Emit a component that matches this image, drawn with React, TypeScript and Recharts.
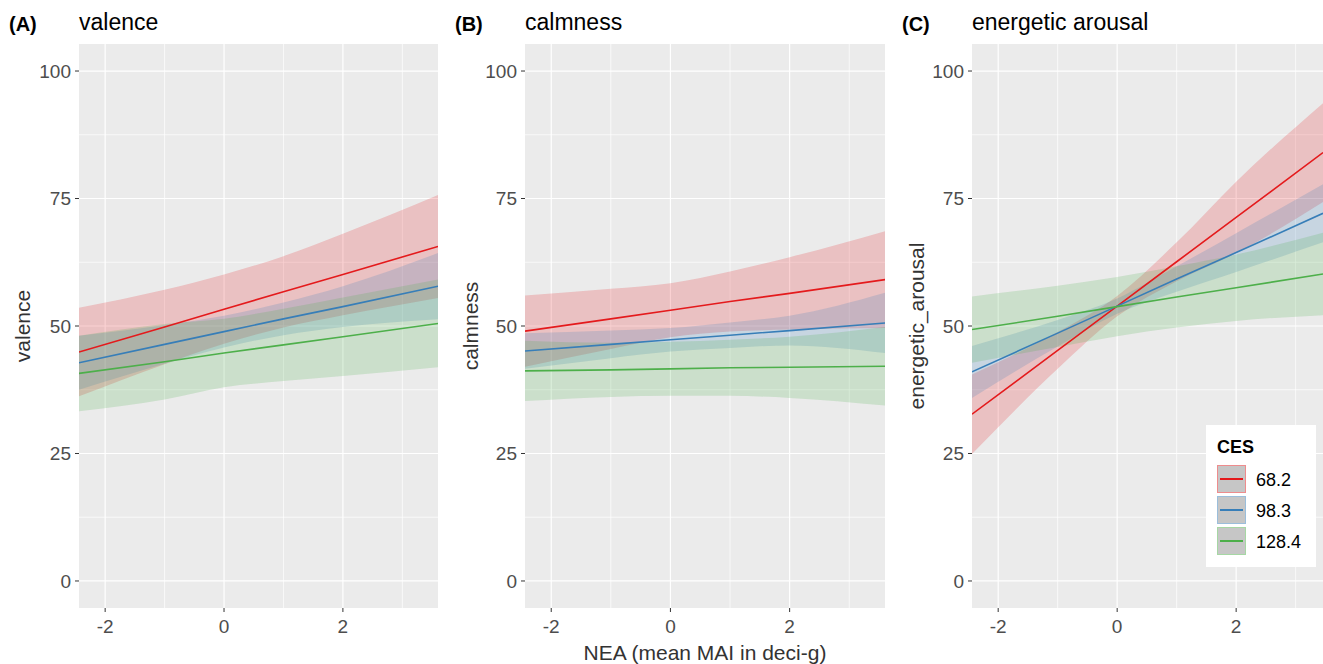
import React from "react"
import { ComposedChart, Area, Line, XAxis, YAxis, CartesianGrid } from "recharts"

const groups = ["68.2", "98.3", "128.4"]
const groupColors = ["#E41A1C", "#377EB8", "#4DAF4A"]
const keyBorders = ["#EE8C8D", "#9BBEDB", "#A6D7A4"]

const neaAB = [-2.44, -1, 0, 1, 2, 3.6]
const neaC = [-2.44, -1, 0, 1, 2, 3.46]

// (A) valence
const valenceFit = [
  [44.9, 49.8, 53.3, 56.7, 60.1, 65.6],
  [42.8, 46.4, 48.9, 51.4, 53.8, 57.8],
  [40.7, 43.0, 44.7, 46.3, 47.9, 50.5],
]
const valenceLow = [
  [36.2, 42.5, 46.5, 49.7, 52.1, 55.5],
  [37.5, 42.6, 45.8, 48.2, 49.8, 51.3],
  [33.3, 35.6, 38.0, 39.2, 40.2, 41.9],
]
const valenceHigh = [
  [53.6, 57.1, 60.1, 63.7, 68.1, 75.7],
  [48.1, 50.2, 52.0, 54.6, 57.8, 64.3],
  [48.1, 50.4, 51.4, 53.4, 55.6, 59.1],
]

// (B) calmness
const calmFit = [
  [49.0, 51.4, 53.1, 54.8, 56.4, 59.1],
  [45.1, 46.4, 47.3, 48.2, 49.1, 50.6],
  [41.2, 41.4, 41.6, 41.8, 41.9, 42.1],
]
const calmLow = [
  [42.0, 45.5, 47.8, 48.9, 49.3, 49.6],
  [41.6, 43.7, 45.0, 45.7, 46.2, 44.7],
  [35.3, 36.1, 36.3, 36.3, 35.9, 34.4],
]
const calmHigh = [
  [56.0, 57.3, 58.4, 60.7, 63.5, 68.6],
  [48.6, 49.1, 49.6, 50.7, 52.0, 56.5],
  [47.1, 46.7, 46.9, 47.3, 47.9, 49.8],
]

// (C) energetic arousal
const arousalFit = [
  [32.7, 45.2, 53.9, 62.6, 71.3, 84.0],
  [41.0, 48.6, 53.9, 59.2, 64.4, 72.1],
  [49.3, 51.9, 53.8, 55.7, 57.5, 60.2],
]
const arousalLow = [
  [24.9, 41.6, 51.9, 58.8, 64.3, 74.3],
  [35.9, 46.0, 52.4, 56.7, 60.6, 66.4],
  [42.8, 45.9, 48.0, 49.7, 51.0, 52.1],
]
const arousalHigh = [
  [40.5, 48.8, 55.9, 66.4, 78.3, 93.7],
  [46.1, 51.2, 55.4, 61.7, 68.2, 77.8],
  [55.8, 57.9, 59.6, 61.7, 64.0, 68.3],
]

const yTicks = [0, 25, 50, 75, 100]
const yMinor = [12.5, 37.5, 62.5, 87.5]
const xTicks = [-2, 0, 2]
const xMinor = [-1, 1, 3]

const font = "'Liberation Sans', Arial, sans-serif"

function makeRows(x: number[], fit: number[][], low: number[][], high: number[][]) {
  return x.map((v, i) => {
    const row: any = { x: v }
    groups.forEach((_, g) => {
      row[`fit${g}`] = fit[g][i]
      row[`band${g}`] = [low[g][i], high[g][i]]
    })
    return row
  })
}

interface PanelProps {
  rows: any[]
  xMax: number
  left: number
  width: number
  marginLeft: number
  marginRight: number
}

function Panel({ rows, xMax, left, width, marginLeft, marginRight }: PanelProps) {
  return (
    <div style={{ position: "absolute", left, top: 0 }}>
      <ComposedChart
        width={width}
        height={664}
        data={rows}
        margin={{ top: 44, right: marginRight, bottom: 26, left: marginLeft }}
      >
        <CartesianGrid
          fill="#EBEBEB"
          stroke="#FFFFFF"
          strokeWidth={0.7}
          horizontalValues={yMinor}
          verticalValues={xMinor}
        />
        <CartesianGrid
          stroke="#FFFFFF"
          strokeWidth={1.2}
          horizontalValues={yTicks}
          verticalValues={xTicks}
        />
        <XAxis
          type="number"
          dataKey="x"
          domain={[-2.44, xMax]}
          ticks={xTicks}
          allowDataOverflow
          axisLine={false}
          tickSize={4}
          tickMargin={8}
          height={30}
          tickLine={{ stroke: "#333333" }}
          tick={{ fill: "#4D4D4D", fontSize: 19, fontFamily: font }}
        />
        <YAxis
          type="number"
          domain={[-5.3, 105.3]}
          ticks={yTicks}
          allowDataOverflow
          axisLine={false}
          tickSize={4}
          tickMargin={4}
          width={40}
          tickLine={{ stroke: "#333333" }}
          tick={{ fill: "#4D4D4D", fontSize: 19, fontFamily: font }}
        />
        {groups.map((g, i) => (
          <Area
            key={`band-${g}`}
            type="monotone"
            dataKey={`band${i}`}
            stroke="none"
            fill={groupColors[i]}
            fillOpacity={0.2}
            isAnimationActive={false}
          />
        ))}
        {groups.map((g, i) => (
          <Line
            key={`fit-${g}`}
            type="linear"
            dataKey={`fit${i}`}
            stroke={groupColors[i]}
            strokeWidth={1.6}
            dot={false}
            isAnimationActive={false}
          />
        ))}
      </ComposedChart>
    </div>
  )
}

function Txt({ x, y, size, bold, color, rotate, children }: any) {
  return (
    <div
      style={{
        position: "absolute",
        left: x,
        top: y,
        fontSize: size,
        fontWeight: bold ? "bold" : "normal",
        color: color || "#000",
        whiteSpace: "nowrap",
        lineHeight: 1,
        transform: rotate ? "translate(-50%, -50%) rotate(-90deg)" : "translate(0, -50%)",
      }}
    >
      {children}
    </div>
  )
}

export default function App() {
  const rowsA = makeRows(neaAB, valenceFit, valenceLow, valenceHigh)
  const rowsB = makeRows(neaAB, calmFit, calmLow, calmHigh)
  const rowsC = makeRows(neaC, arousalFit, arousalLow, arousalHigh)

  return (
    <div
      style={{
        position: "absolute",
        left: 0,
        top: 0,
        width: 1323,
        height: 664,
        overflow: "hidden",
        background: "#FFFFFF",
        fontFamily: font,
      }}
    >
      <Panel rows={rowsA} xMax={3.6} left={0} width={445} marginLeft={39} marginRight={7} />
      <Panel rows={rowsB} xMax={3.6} left={445} width={445} marginLeft={40} marginRight={5} />
      <Panel rows={rowsC} xMax={3.46} left={890} width={433} marginLeft={42} marginRight={0} />

      <Txt x={9} y={24} size={20} bold>(A)</Txt>
      <Txt x={79} y={22} size={23}>valence</Txt>
      <Txt x={455} y={24} size={20} bold>(B)</Txt>
      <Txt x={525} y={22} size={23}>calmness</Txt>
      <Txt x={902} y={24} size={20} bold>(C)</Txt>
      <Txt x={972} y={22} size={23}>energetic arousal</Txt>

      <Txt x={22} y={326} size={21} color="#333" rotate>valence</Txt>
      <Txt x={470} y={326} size={21} color="#333" rotate>calmness</Txt>
      <Txt x={916} y={326} size={21} color="#333" rotate>energetic_arousal</Txt>
      <div
        style={{
          position: "absolute",
          left: 705,
          top: 652,
          transform: "translate(-50%, -50%)",
          fontSize: 21,
          color: "#333",
          whiteSpace: "nowrap",
          lineHeight: 1,
        }}
      >
        NEA (mean MAI in deci-g)
      </div>

      <div
        style={{
          position: "absolute",
          left: 1206,
          top: 425,
          width: 110,
          height: 142,
          background: "#FFFFFF",
        }}
      >
        <div style={{ position: "absolute", left: 11, top: 13, fontSize: 18, fontWeight: "bold", lineHeight: 1 }}>
          CES
        </div>
        {groups.map((g, i) => (
          <div key={g} style={{ position: "absolute", left: 11, top: 40 + i * 31, height: 29, width: 100 }}>
            <div
              style={{
                position: "absolute",
                left: 0,
                top: 0,
                width: 27,
                height: 26,
                background: "#C6C6C6",
                border: `1.5px solid ${keyBorders[i]}`,
              }}
            >
              <div
                style={{
                  position: "absolute",
                  left: 2,
                  right: 2,
                  top: 12,
                  height: 2,
                  background: groupColors[i],
                }}
              />
            </div>
            <div style={{ position: "absolute", left: 39, top: 6, fontSize: 18, lineHeight: 1 }}>{g}</div>
          </div>
        ))}
      </div>
    </div>
  )
}
